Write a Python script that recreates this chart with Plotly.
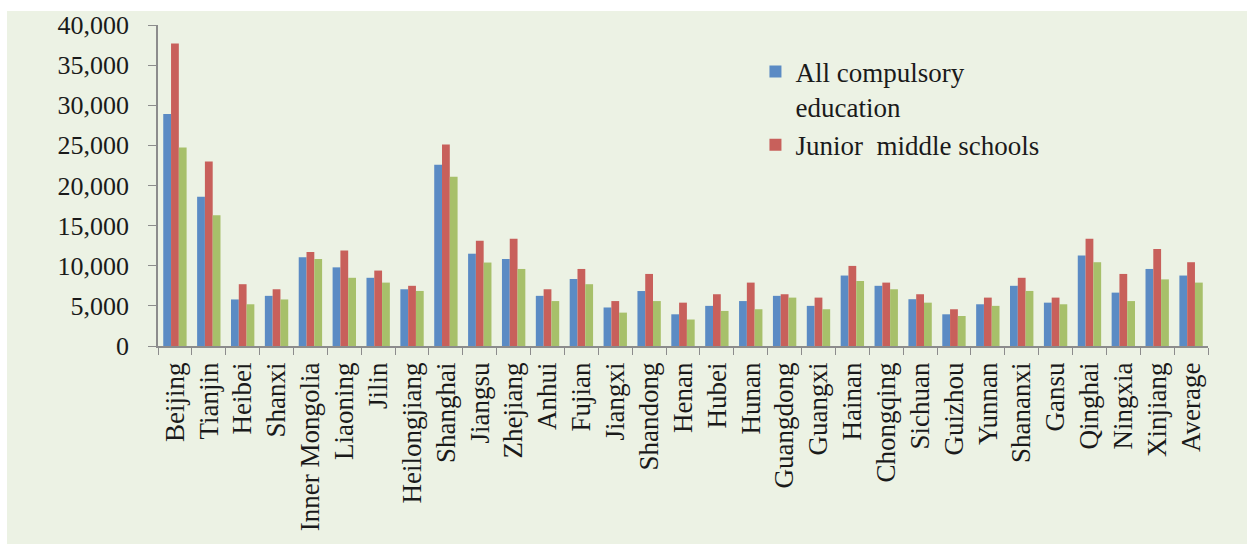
import plotly.graph_objects as go

categories = ["Beijing", "Tianjin", "Heibei", "Shanxi", "Inner Mongolia", "Liaoning", "Jilin",
              "Heilongjiang", "Shanghai", "Jiangsu", "Zhejiang", "Anhui", "Fujian", "Jiangxi",
              "Shandong", "Henan", "Hubei", "Hunan", "Guangdong", "Guangxi", "Hainan", "Chongqing",
              "Sichuan", "Guizhou", "Yunnan", "Shananxi", "Gansu", "Qinghai", "Ningxia", "Xinjiang",
              "Average"]

all_compulsory = [28900, 18600, 5800, 6250, 11050, 9800, 8500, 7070, 22600, 11500, 10850, 6250,
                  8350, 4800, 6850, 3950, 5000, 5600, 6250, 5000, 8780, 7500, 5830, 3950, 5200,
                  7500, 5400, 11270, 6650, 9600, 8780]
junior_middle = [37700, 23000, 7700, 7070, 11700, 11900, 9400, 7500, 25100, 13100, 13350, 7070,
                 9600, 5600, 8980, 5400, 6450, 7900, 6450, 6030, 9980, 7900, 6450, 4580, 6030,
                 8500, 6030, 13350, 8980, 12100, 10440]
primary = [24750, 16300, 5200, 5800, 10850, 8500, 7900, 6860, 21100, 10400, 9600, 5600, 7700,
           4160, 5600, 3300, 4370, 4580, 6030, 4580, 8100, 7070, 5400, 3740, 5000, 6860, 5200,
           10440, 5600, 8300, 7900]

series_names = ["All compulsory<br>education", "Junior\u00a0 middle schools", "Primary schools"]
series_colors = ["#5B8BC4", "#C8605B", "#A7C06A"]
series_values = [all_compulsory, junior_middle, primary]
show_in_legend = [True, True, False]

FONT = "Liberation Serif, Times New Roman, serif"

fig = go.Figure()
for name, color, vals, sl in zip(series_names, series_colors, series_values, show_in_legend):
    fig.add_trace(go.Bar(x=categories, y=vals, name=name, marker_color=color,
                         marker_line_width=0, showlegend=sl))

fig.update_layout(
    width=1247, height=544,
    margin=dict(l=158, r=39, t=25, b=198),
    paper_bgcolor="white",
    plot_bgcolor="rgba(0,0,0,0)",
    barmode="group", bargap=0.31, bargroupgap=0,
    font=dict(family=FONT, size=26, color="#1a1a1a"),
    legend=dict(x=0.569, y=0.93, xanchor="left", yanchor="top", valign="top",
                bgcolor="rgba(0,0,0,0)", font=dict(family=FONT, size=27, color="#1a1a1a"),
                tracegroupgap=0, itemwidth=30),
    shapes=[dict(type="rect", xref="paper", yref="paper", x0=-0.1438, x1=1.04, y0=-0.62, y1=1.0437,
                 fillcolor="#ECF2E4", line_width=0, layer="below")],
    xaxis=dict(type="category", showline=True, linecolor="#8c8c8c", linewidth=1.5,
               ticks="outside", tickson="boundaries", ticklen=7, tickcolor="#8c8c8c",
               tickangle=-90, tickfont=dict(family=FONT, size=27, color="#1a1a1a"),
               showgrid=False, zeroline=False, ticklabelstandoff=4),
    yaxis=dict(range=[0, 40000], dtick=5000, tickformat=",d", showline=True, linecolor="#8c8c8c",
               linewidth=1.5, ticks="outside", ticklen=8, tickcolor="#8c8c8c",
               tickfont=dict(family=FONT, size=26, color="#1a1a1a"),
               showgrid=False, zeroline=False, ticklabelstandoff=14),
)

fig.write_html("out.html")
